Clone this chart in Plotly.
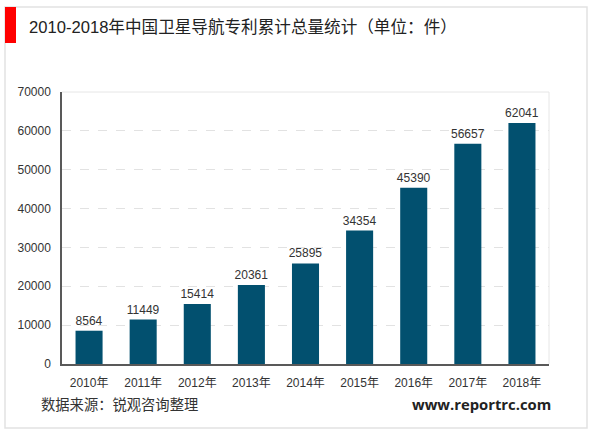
import plotly.graph_objects as go

years = ['2010年', '2011年', '2012年', '2013年', '2014年', '2015年', '2016年', '2017年', '2018年']
patents = [8564, 11449, 15414, 20361, 25895, 34354, 45390, 56657, 62041]
y_ticks = [0, 10000, 20000, 30000, 40000, 50000, 60000, 70000]

W, H = 600, 433
FONT = 'Liberation Sans, Noto Sans CJK SC, sans-serif'
CJK = 'Noto Sans CJK SC, sans-serif'

fig = go.Figure()
# transparent outline only lifts the value labels a little off the bars
fig.add_trace(go.Bar(x=years, y=patents, marker=dict(color='#02506F', line=dict(width=4, color='rgba(0,0,0,0)')),
                     text=patents, textposition='outside', cliponaxis=False, constraintext='none',
                     textfont=dict(size=12, color='#333333', family=FONT), width=0.5))

fig.update_layout(
    width=W, height=H, autosize=False,
    margin=dict(l=62, r=W - 549, t=92, b=H - 364),
    paper_bgcolor='white', plot_bgcolor='white',
    showlegend=False,
    font=dict(family=FONT, size=12, color='#333333'),
    xaxis=dict(type='category', showgrid=False, showline=True, linecolor='#595959', linewidth=1.5,
               ticks='', tickfont=dict(size=12, color='#333333'), ticklabelstandoff=7),
    yaxis=dict(range=[0, 70000], tickvals=y_ticks, tickformat='d', showgrid=True, griddash='dash',
               gridcolor='#E2E2E2', gridwidth=1, zeroline=False, showline=True, linecolor='#595959',
               linewidth=1.5, ticks='', tickfont=dict(size=12, color='#333333'), ticklabelstandoff=7),
    shapes=[
        # outer frame, chart area edge, red title marker
        dict(type='rect', xref='paper', yref='paper', x0=(5 - 62) / 487, x1=(587 - 62) / 487,
             y0=(364 - 428) / 272, y1=(364 - 7) / 272, line=dict(color='#E2E2E2', width=1.5), layer='below'),
        dict(type='line', xref='paper', yref='paper', x0=0, x1=1, y0=1, y1=1, line=dict(color='#E6E6E6', width=1)),
        dict(type='line', xref='paper', yref='paper', x0=1, x1=1, y0=0, y1=1, line=dict(color='#E6E6E6', width=1)),
        dict(type='rect', xref='paper', yref='paper', x0=(5 - 62) / 487, x1=(16 - 62) / 487,
             y0=(364 - 43) / 272, y1=(364 - 7) / 272, fillcolor='#FF0000', line=dict(width=0)),
    ],
    annotations=[
        dict(text='2010-2018年中国卫星导航专利累计总量统计（单位：件）', xref='paper', yref='paper',
             x=(27 - 62) / 487, y=(364 - 28) / 272, xanchor='left', yanchor='middle', showarrow=False,
             font=dict(size=16.6, color='#222222', family=FONT)),
        dict(text='数据来源：锐观咨询整理', xref='paper', yref='paper',
             x=(39 - 62) / 487, y=(364 - 403) / 272, xanchor='left', yanchor='middle', showarrow=False,
             font=dict(size=14.3, color='#333333', family=CJK)),
        dict(text='<b>www.reportrc.com</b>', xref='paper', yref='paper',
             x=(553 - 62) / 487, y=(364 - 404) / 272, xanchor='right', yanchor='middle', showarrow=False,
             font=dict(size=14.8, color='#222222', family='Open Sans, sans-serif')),
    ],
)

# page default margin would push the figure off the window
fig.write_html("out.html", config=dict(displayModeBar=False), post_script="document.body.style.margin='0';")
